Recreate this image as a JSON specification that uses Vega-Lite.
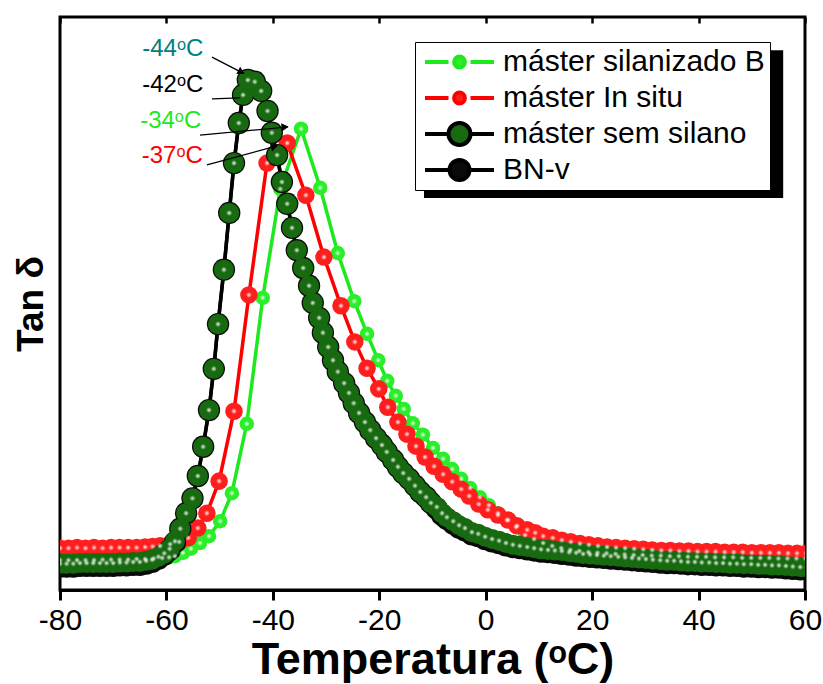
{
"$schema":"https://vega.github.io/schema/vega-lite/v6.json",
"width":745,"height":573,
"autosize":{"type":"none"},
"padding":{"left":60,"top":17,"right":18,"bottom":94},
"background":"white",
"config":{"font":"Liberation Sans","view":{"stroke":"black","strokeWidth":3}},
"resolve":{"axis":{"x":"independent"}},
"datasets":{
"d":[
{"s":"máster silanizado B","t":-80,"v":0.052},{"s":"máster silanizado B","t":-78.4,"v":0.052},{"s":"máster silanizado B","t":-76.8,"v":0.052},{"s":"máster silanizado B","t":-75.2,"v":0.052},{"s":"máster silanizado B","t":-73.6,"v":0.052},{"s":"máster silanizado B","t":-72.0,"v":0.053},{"s":"máster silanizado B","t":-70.4,"v":0.053},{"s":"máster silanizado B","t":-68.8,"v":0.053},{"s":"máster silanizado B","t":-67.2,"v":0.053},{"s":"máster silanizado B","t":-65.6,"v":0.054},{"s":"máster silanizado B","t":-64.0,"v":0.054},{"s":"máster silanizado B","t":-62.4,"v":0.055},{"s":"máster silanizado B","t":-60.8,"v":0.056},{"s":"máster silanizado B","t":-59.5,"v":0.057},{"s":"máster silanizado B","t":-58.4,"v":0.059},{"s":"máster silanizado B","t":-56.9,"v":0.065},{"s":"máster silanizado B","t":-55.4,"v":0.072},{"s":"máster silanizado B","t":-53.7,"v":0.082},{"s":"máster silanizado B","t":-52.0,"v":0.094},{"s":"máster silanizado B","t":-49.9,"v":0.120},{"s":"máster silanizado B","t":-47.7,"v":0.169},{"s":"máster silanizado B","t":-44.9,"v":0.290},{"s":"máster silanizado B","t":-41.9,"v":0.510},{"s":"máster silanizado B","t":-38.6,"v":0.700},{"s":"máster silanizado B","t":-34.7,"v":0.805},{"s":"máster silanizado B","t":-31.1,"v":0.702},{"s":"máster silanizado B","t":-27.8,"v":0.588},{"s":"máster silanizado B","t":-24.7,"v":0.504},{"s":"máster silanizado B","t":-22.3,"v":0.447},{"s":"máster silanizado B","t":-20.2,"v":0.401},{"s":"máster silanizado B","t":-18.5,"v":0.365},{"s":"máster silanizado B","t":-16.9,"v":0.339},{"s":"máster silanizado B","t":-15.4,"v":0.316},{"s":"máster silanizado B","t":-13.7,"v":0.291},{"s":"máster silanizado B","t":-11.8,"v":0.271},{"s":"máster silanizado B","t":-9.9,"v":0.248},{"s":"máster silanizado B","t":-8.0,"v":0.229},{"s":"máster silanizado B","t":-6.3,"v":0.211},{"s":"máster silanizado B","t":-4.6,"v":0.194},{"s":"máster silanizado B","t":-2.9,"v":0.178},{"s":"máster silanizado B","t":-1.1,"v":0.162},{"s":"máster silanizado B","t":0.6,"v":0.148},{"s":"máster silanizado B","t":2.3,"v":0.134},{"s":"máster silanizado B","t":4.0,"v":0.122},{"s":"máster silanizado B","t":5.7,"v":0.110},{"s":"máster silanizado B","t":7.4,"v":0.096},{"s":"máster silanizado B","t":9.1,"v":0.089},{"s":"máster silanizado B","t":10.8,"v":0.082},{"s":"máster silanizado B","t":12.5,"v":0.077},{"s":"máster silanizado B","t":14.2,"v":0.073},{"s":"máster silanizado B","t":15.9,"v":0.070},{"s":"máster silanizado B","t":17.6,"v":0.068},{"s":"máster silanizado B","t":19.3,"v":0.066},{"s":"máster silanizado B","t":21.0,"v":0.065},{"s":"máster silanizado B","t":22.7,"v":0.064},{"s":"máster silanizado B","t":24.4,"v":0.063},{"s":"máster silanizado B","t":26.1,"v":0.062},{"s":"máster silanizado B","t":27.8,"v":0.061},{"s":"máster silanizado B","t":29.5,"v":0.061},{"s":"máster silanizado B","t":31.2,"v":0.060},{"s":"máster silanizado B","t":32.9,"v":0.060},{"s":"máster silanizado B","t":34.6,"v":0.059},{"s":"máster silanizado B","t":36.3,"v":0.059},{"s":"máster silanizado B","t":38.0,"v":0.058},{"s":"máster silanizado B","t":39.7,"v":0.058},{"s":"máster silanizado B","t":41.4,"v":0.058},{"s":"máster silanizado B","t":43.1,"v":0.057},{"s":"máster silanizado B","t":44.8,"v":0.057},{"s":"máster silanizado B","t":46.5,"v":0.057},{"s":"máster silanizado B","t":48.2,"v":0.056},{"s":"máster silanizado B","t":49.9,"v":0.056},{"s":"máster silanizado B","t":51.6,"v":0.056},{"s":"máster silanizado B","t":53.3,"v":0.056},{"s":"máster silanizado B","t":55.0,"v":0.055},{"s":"máster silanizado B","t":56.7,"v":0.055},{"s":"máster silanizado B","t":58.4,"v":0.055},{"s":"máster silanizado B","t":60.1,"v":0.055},
{"s":"máster In situ","t":-80,"v":0.073},{"s":"máster In situ","t":-78.4,"v":0.073},{"s":"máster In situ","t":-76.8,"v":0.074},{"s":"máster In situ","t":-75.2,"v":0.073},{"s":"máster In situ","t":-73.6,"v":0.074},{"s":"máster In situ","t":-72.0,"v":0.073},{"s":"máster In situ","t":-70.4,"v":0.074},{"s":"máster In situ","t":-68.8,"v":0.074},{"s":"máster In situ","t":-67.2,"v":0.074},{"s":"máster In situ","t":-65.6,"v":0.074},{"s":"máster In situ","t":-64.0,"v":0.075},{"s":"máster In situ","t":-62.6,"v":0.076},{"s":"máster In situ","t":-61.2,"v":0.077},{"s":"máster In situ","t":-59.3,"v":0.080},{"s":"máster In situ","t":-57.6,"v":0.084},{"s":"máster In situ","t":-55.9,"v":0.091},{"s":"máster In situ","t":-54.1,"v":0.108},{"s":"máster In situ","t":-52.4,"v":0.134},{"s":"máster In situ","t":-50.1,"v":0.190},{"s":"máster In situ","t":-47.3,"v":0.312},{"s":"máster In situ","t":-44.5,"v":0.515},{"s":"máster In situ","t":-41.1,"v":0.745},{"s":"máster In situ","t":-37.3,"v":0.780},{"s":"máster In situ","t":-33.8,"v":0.689},{"s":"máster In situ","t":-30.4,"v":0.581},{"s":"máster In situ","t":-27.2,"v":0.496},{"s":"máster In situ","t":-24.6,"v":0.433},{"s":"máster In situ","t":-22.3,"v":0.387},{"s":"máster In situ","t":-20.1,"v":0.351},{"s":"máster In situ","t":-18.4,"v":0.319},{"s":"máster In situ","t":-16.5,"v":0.293},{"s":"máster In situ","t":-14.8,"v":0.272},{"s":"máster In situ","t":-13.1,"v":0.251},{"s":"máster In situ","t":-11.4,"v":0.232},{"s":"máster In situ","t":-9.7,"v":0.216},{"s":"máster In situ","t":-8.0,"v":0.202},{"s":"máster In situ","t":-6.3,"v":0.189},{"s":"máster In situ","t":-4.6,"v":0.176},{"s":"máster In situ","t":-3.1,"v":0.164},{"s":"máster In situ","t":-1.3,"v":0.150},{"s":"máster In situ","t":0.4,"v":0.140},{"s":"máster In situ","t":2.3,"v":0.131},{"s":"máster In situ","t":4.2,"v":0.122},{"s":"máster In situ","t":5.9,"v":0.112},{"s":"máster In situ","t":7.8,"v":0.105},{"s":"máster In situ","t":9.3,"v":0.100},{"s":"máster In situ","t":10.8,"v":0.094},{"s":"máster In situ","t":12.6,"v":0.091},{"s":"máster In situ","t":14.3,"v":0.087},{"s":"máster In situ","t":16.0,"v":0.084},{"s":"máster In situ","t":17.7,"v":0.081},{"s":"máster In situ","t":19.4,"v":0.079},{"s":"máster In situ","t":21.1,"v":0.077},{"s":"máster In situ","t":22.8,"v":0.075},{"s":"máster In situ","t":24.5,"v":0.074},{"s":"máster In situ","t":26.2,"v":0.073},{"s":"máster In situ","t":27.9,"v":0.072},{"s":"máster In situ","t":29.6,"v":0.071},{"s":"máster In situ","t":31.3,"v":0.070},{"s":"máster In situ","t":33.0,"v":0.069},{"s":"máster In situ","t":34.7,"v":0.069},{"s":"máster In situ","t":36.4,"v":0.068},{"s":"máster In situ","t":38.1,"v":0.068},{"s":"máster In situ","t":39.8,"v":0.067},{"s":"máster In situ","t":41.5,"v":0.067},{"s":"máster In situ","t":43.2,"v":0.067},{"s":"máster In situ","t":44.9,"v":0.066},{"s":"máster In situ","t":46.6,"v":0.066},{"s":"máster In situ","t":48.3,"v":0.066},{"s":"máster In situ","t":50.0,"v":0.065},{"s":"máster In situ","t":51.7,"v":0.065},{"s":"máster In situ","t":53.4,"v":0.065},{"s":"máster In situ","t":55.1,"v":0.065},{"s":"máster In situ","t":56.8,"v":0.064},{"s":"máster In situ","t":58.5,"v":0.064},{"s":"máster In situ","t":60.2,"v":0.064},
{"s":"BN-v","t":-80,"v":0.041},{"s":"BN-v","t":-78.75,"v":0.041},{"s":"BN-v","t":-77.5,"v":0.041},{"s":"BN-v","t":-76.25,"v":0.042},{"s":"BN-v","t":-75,"v":0.042},{"s":"BN-v","t":-73.75,"v":0.042},{"s":"BN-v","t":-72.5,"v":0.042},{"s":"BN-v","t":-71.25,"v":0.042},{"s":"BN-v","t":-70,"v":0.042},{"s":"BN-v","t":-68.75,"v":0.043},{"s":"BN-v","t":-67.5,"v":0.043},{"s":"BN-v","t":-66.25,"v":0.044},{"s":"BN-v","t":-65,"v":0.044},{"s":"BN-v","t":-63.8,"v":0.046},{"s":"BN-v","t":-62.7,"v":0.049},{"s":"BN-v","t":-61.5,"v":0.055},{"s":"BN-v","t":-60.4,"v":0.062},{"s":"BN-v","t":-59.4,"v":0.070},{"s":"BN-v","t":-58.4,"v":0.083},{"s":"BN-v","t":-57.4,"v":0.107},{"s":"BN-v","t":-56.3,"v":0.134},{"s":"BN-v","t":-55.1,"v":0.160},{"s":"BN-v","t":-54.1,"v":0.199},{"s":"BN-v","t":-53.1,"v":0.250},{"s":"BN-v","t":-52.0,"v":0.314},{"s":"BN-v","t":-51.1,"v":0.386},{"s":"BN-v","t":-50.3,"v":0.464},{"s":"BN-v","t":-49.2,"v":0.559},{"s":"BN-v","t":-48.2,"v":0.658},{"s":"BN-v","t":-47.3,"v":0.745},{"s":"BN-v","t":-46.4,"v":0.815},{"s":"BN-v","t":-45.6,"v":0.864},{"s":"BN-v","t":-44.7,"v":0.890},{"s":"BN-v","t":-43.4,"v":0.887},{"s":"BN-v","t":-42.2,"v":0.871},{"s":"BN-v","t":-41.0,"v":0.836},{"s":"BN-v","t":-40.2,"v":0.798},{"s":"BN-v","t":-39.2,"v":0.759},{"s":"BN-v","t":-38.3,"v":0.712},{"s":"BN-v","t":-37.3,"v":0.674},{"s":"BN-v","t":-36.4,"v":0.632},{"s":"BN-v","t":-35.5,"v":0.593},{"s":"BN-v","t":-34.3,"v":0.562},{"s":"BN-v","t":-33.2,"v":0.531},{"s":"BN-v","t":-32.5,"v":0.501},{"s":"BN-v","t":-31.3,"v":0.475},{"s":"BN-v","t":-30.6,"v":0.449},{"s":"BN-v","t":-29.6,"v":0.424},{"s":"BN-v","t":-28.7,"v":0.401},{"s":"BN-v","t":-27.8,"v":0.381},{"s":"BN-v","t":-26.6,"v":0.361},{"s":"BN-v","t":-25.7,"v":0.344},{"s":"BN-v","t":-24.8,"v":0.326},{"s":"BN-v","t":-23.8,"v":0.309},{"s":"BN-v","t":-22.7,"v":0.293},{"s":"BN-v","t":-21.7,"v":0.279},{"s":"BN-v","t":-20.6,"v":0.265},{"s":"BN-v","t":-19.5,"v":0.253},{"s":"BN-v","t":-18.6,"v":0.241},{"s":"BN-v","t":-17.4,"v":0.227},{"s":"BN-v","t":-16.5,"v":0.215},{"s":"BN-v","t":-15.5,"v":0.204},{"s":"BN-v","t":-14.4,"v":0.194},{"s":"BN-v","t":-13.3,"v":0.182},{"s":"BN-v","t":-12.3,"v":0.171},{"s":"BN-v","t":-11.2,"v":0.162},{"s":"BN-v","t":-10.3,"v":0.152},{"s":"BN-v","t":-9.2,"v":0.142},{"s":"BN-v","t":-8.2,"v":0.131},{"s":"BN-v","t":-7.3,"v":0.124},{"s":"BN-v","t":-6.1,"v":0.116},{"s":"BN-v","t":-5.0,"v":0.109},{"s":"BN-v","t":-3.9,"v":0.104},{"s":"BN-v","t":-2.6,"v":0.097},{"s":"BN-v","t":-1.4,"v":0.094},{"s":"BN-v","t":-0.1,"v":0.089},{"s":"BN-v","t":1.2,"v":0.085},{"s":"BN-v","t":2.5,"v":0.082},{"s":"BN-v","t":3.8,"v":0.078},{"s":"BN-v","t":5.1,"v":0.075},{"s":"BN-v","t":6.4,"v":0.073},{"s":"BN-v","t":7.8,"v":0.071},{"s":"BN-v","t":9.1,"v":0.069},{"s":"BN-v","t":10.4,"v":0.067},{"s":"BN-v","t":11.7,"v":0.066},{"s":"BN-v","t":13.0,"v":0.065},{"s":"BN-v","t":14.3,"v":0.063},{"s":"BN-v","t":15.7,"v":0.062},{"s":"BN-v","t":17.0,"v":0.060},{"s":"BN-v","t":18.3,"v":0.059},{"s":"BN-v","t":19.6,"v":0.058},{"s":"BN-v","t":20.9,"v":0.057},{"s":"BN-v","t":22.2,"v":0.056},{"s":"BN-v","t":23.5,"v":0.055},{"s":"BN-v","t":24.9,"v":0.054},{"s":"BN-v","t":26.2,"v":0.053},{"s":"BN-v","t":27.5,"v":0.052},{"s":"BN-v","t":28.8,"v":0.051},{"s":"BN-v","t":30.1,"v":0.050},{"s":"BN-v","t":31.4,"v":0.049},{"s":"BN-v","t":32.8,"v":0.048},{"s":"BN-v","t":34.1,"v":0.047},{"s":"BN-v","t":35.4,"v":0.047},{"s":"BN-v","t":36.7,"v":0.046},{"s":"BN-v","t":38.0,"v":0.045},{"s":"BN-v","t":39.3,"v":0.045},{"s":"BN-v","t":40.6,"v":0.044},{"s":"BN-v","t":42.0,"v":0.044},{"s":"BN-v","t":43.3,"v":0.043},{"s":"BN-v","t":44.6,"v":0.043},{"s":"BN-v","t":45.9,"v":0.042},{"s":"BN-v","t":47.2,"v":0.042},{"s":"BN-v","t":48.5,"v":0.041},{"s":"BN-v","t":49.9,"v":0.041},{"s":"BN-v","t":51.2,"v":0.040},{"s":"BN-v","t":52.5,"v":0.040},{"s":"BN-v","t":53.8,"v":0.039},{"s":"BN-v","t":55.1,"v":0.039},{"s":"BN-v","t":56.4,"v":0.038},{"s":"BN-v","t":57.7,"v":0.037},{"s":"BN-v","t":59.1,"v":0.036},{"s":"BN-v","t":60.4,"v":0.036},
{"s":"máster sem silano","t":-80,"v":0.046},{"s":"máster sem silano","t":-78.75,"v":0.046},{"s":"máster sem silano","t":-77.5,"v":0.046},{"s":"máster sem silano","t":-76.25,"v":0.047},{"s":"máster sem silano","t":-75,"v":0.047},{"s":"máster sem silano","t":-73.75,"v":0.047},{"s":"máster sem silano","t":-72.5,"v":0.047},{"s":"máster sem silano","t":-71.25,"v":0.047},{"s":"máster sem silano","t":-70,"v":0.047},{"s":"máster sem silano","t":-68.75,"v":0.048},{"s":"máster sem silano","t":-67.5,"v":0.048},{"s":"máster sem silano","t":-66.25,"v":0.049},{"s":"máster sem silano","t":-65,"v":0.049},{"s":"máster sem silano","t":-63.8,"v":0.051},{"s":"máster sem silano","t":-62.7,"v":0.053},{"s":"máster sem silano","t":-61.5,"v":0.058},{"s":"máster sem silano","t":-60.4,"v":0.064},{"s":"máster sem silano","t":-59.4,"v":0.072},{"s":"máster sem silano","t":-58.4,"v":0.085},{"s":"máster sem silano","t":-57.4,"v":0.107},{"s":"máster sem silano","t":-56.3,"v":0.134},{"s":"máster sem silano","t":-55.1,"v":0.160},{"s":"máster sem silano","t":-54.1,"v":0.199},{"s":"máster sem silano","t":-53.1,"v":0.250},{"s":"máster sem silano","t":-52.0,"v":0.314},{"s":"máster sem silano","t":-51.1,"v":0.386},{"s":"máster sem silano","t":-50.3,"v":0.464},{"s":"máster sem silano","t":-49.2,"v":0.559},{"s":"máster sem silano","t":-48.2,"v":0.658},{"s":"máster sem silano","t":-47.3,"v":0.745},{"s":"máster sem silano","t":-46.4,"v":0.815},{"s":"máster sem silano","t":-45.6,"v":0.864},{"s":"máster sem silano","t":-44.7,"v":0.890},{"s":"máster sem silano","t":-43.4,"v":0.887},{"s":"máster sem silano","t":-42.2,"v":0.871},{"s":"máster sem silano","t":-41.0,"v":0.836},{"s":"máster sem silano","t":-40.2,"v":0.798},{"s":"máster sem silano","t":-39.2,"v":0.759},{"s":"máster sem silano","t":-38.3,"v":0.712},{"s":"máster sem silano","t":-37.3,"v":0.674},{"s":"máster sem silano","t":-36.4,"v":0.632},{"s":"máster sem silano","t":-35.5,"v":0.593},{"s":"máster sem silano","t":-34.3,"v":0.562},{"s":"máster sem silano","t":-33.2,"v":0.531},{"s":"máster sem silano","t":-32.5,"v":0.501},{"s":"máster sem silano","t":-31.3,"v":0.475},{"s":"máster sem silano","t":-30.6,"v":0.449},{"s":"máster sem silano","t":-29.6,"v":0.424},{"s":"máster sem silano","t":-28.7,"v":0.401},{"s":"máster sem silano","t":-27.8,"v":0.381},{"s":"máster sem silano","t":-26.6,"v":0.361},{"s":"máster sem silano","t":-25.7,"v":0.344},{"s":"máster sem silano","t":-24.8,"v":0.326},{"s":"máster sem silano","t":-23.8,"v":0.309},{"s":"máster sem silano","t":-22.7,"v":0.293},{"s":"máster sem silano","t":-21.7,"v":0.279},{"s":"máster sem silano","t":-20.6,"v":0.265},{"s":"máster sem silano","t":-19.5,"v":0.253},{"s":"máster sem silano","t":-18.6,"v":0.241},{"s":"máster sem silano","t":-17.4,"v":0.227},{"s":"máster sem silano","t":-16.5,"v":0.215},{"s":"máster sem silano","t":-15.5,"v":0.204},{"s":"máster sem silano","t":-14.4,"v":0.194},{"s":"máster sem silano","t":-13.3,"v":0.182},{"s":"máster sem silano","t":-12.3,"v":0.171},{"s":"máster sem silano","t":-11.2,"v":0.162},{"s":"máster sem silano","t":-10.3,"v":0.152},{"s":"máster sem silano","t":-9.2,"v":0.145},{"s":"máster sem silano","t":-8.2,"v":0.134},{"s":"máster sem silano","t":-7.3,"v":0.127},{"s":"máster sem silano","t":-6.1,"v":0.120},{"s":"máster sem silano","t":-5.0,"v":0.113},{"s":"máster sem silano","t":-3.9,"v":0.108},{"s":"máster sem silano","t":-2.6,"v":0.101},{"s":"máster sem silano","t":-1.4,"v":0.098},{"s":"máster sem silano","t":-0.1,"v":0.093},{"s":"máster sem silano","t":1.2,"v":0.089},{"s":"máster sem silano","t":2.5,"v":0.086},{"s":"máster sem silano","t":3.8,"v":0.082},{"s":"máster sem silano","t":5.1,"v":0.079},{"s":"máster sem silano","t":6.4,"v":0.077},{"s":"máster sem silano","t":7.8,"v":0.075},{"s":"máster sem silano","t":9.1,"v":0.073},{"s":"máster sem silano","t":10.4,"v":0.071},{"s":"máster sem silano","t":11.7,"v":0.070},{"s":"máster sem silano","t":13.0,"v":0.069},{"s":"máster sem silano","t":14.3,"v":0.068},{"s":"máster sem silano","t":15.7,"v":0.066},{"s":"máster sem silano","t":17.0,"v":0.065},{"s":"máster sem silano","t":18.3,"v":0.063},{"s":"máster sem silano","t":19.6,"v":0.062},{"s":"máster sem silano","t":20.9,"v":0.061},{"s":"máster sem silano","t":22.2,"v":0.060},{"s":"máster sem silano","t":23.5,"v":0.059},{"s":"máster sem silano","t":24.9,"v":0.058},{"s":"máster sem silano","t":26.2,"v":0.057},{"s":"máster sem silano","t":27.5,"v":0.056},{"s":"máster sem silano","t":28.8,"v":0.055},{"s":"máster sem silano","t":30.1,"v":0.054},{"s":"máster sem silano","t":31.4,"v":0.053},{"s":"máster sem silano","t":32.8,"v":0.052},{"s":"máster sem silano","t":34.1,"v":0.051},{"s":"máster sem silano","t":35.4,"v":0.051},{"s":"máster sem silano","t":36.7,"v":0.050},{"s":"máster sem silano","t":38.0,"v":0.049},{"s":"máster sem silano","t":39.3,"v":0.049},{"s":"máster sem silano","t":40.6,"v":0.048},{"s":"máster sem silano","t":42.0,"v":0.048},{"s":"máster sem silano","t":43.3,"v":0.047},{"s":"máster sem silano","t":44.6,"v":0.047},{"s":"máster sem silano","t":45.9,"v":0.046},{"s":"máster sem silano","t":47.2,"v":0.046},{"s":"máster sem silano","t":48.5,"v":0.045},{"s":"máster sem silano","t":49.9,"v":0.045},{"s":"máster sem silano","t":51.2,"v":0.044},{"s":"máster sem silano","t":52.5,"v":0.044},{"s":"máster sem silano","t":53.8,"v":0.043},{"s":"máster sem silano","t":55.1,"v":0.043},{"s":"máster sem silano","t":56.4,"v":0.042},{"s":"máster sem silano","t":57.7,"v":0.041},{"s":"máster sem silano","t":59.1,"v":0.040},{"s":"máster sem silano","t":60.4,"v":0.040}
],
"labels":[
{"lab":"-44ᵒC","t":-58.8,"v":0.945},
{"lab":"-42ᵒC","t":-58.8,"v":0.881},
{"lab":"-34ᵒC","t":-59.2,"v":0.819},
{"lab":"-37ᵒC","t":-58.9,"v":0.757}
],
"leaders":[
{"t":-51.44,"v":0.930,"t2":-45.61,"v2":0.902},
{"t":-51.44,"v":0.857,"t2":-46.17,"v2":0.859},
{"t":-53.69,"v":0.794,"t2":-37.15,"v2":0.808},
{"t":-52.38,"v":0.742,"t2":-39.22,"v2":0.775}
],
"shadow":[{"t":-11.6,"t2":55.9,"v":0.684,"v2":0.942}]
},
"layer":[
{"data":{"name":"shadow"},"mark":{"type":"rect","fill":"black"},
 "encoding":{"x":{"field":"t","type":"quantitative","axis":null},"x2":{"field":"t2"},"y":{"field":"v","type":"quantitative"},"y2":{"field":"v2"}}},
{"data":{"name":"d"},"mark":{"type":"line","strokeWidth":3.5,"clip":true},
 "encoding":{
  "x":{"field":"t","type":"quantitative","scale":{"domain":[-80,60],"nice":false,"zero":false},
    "axis":{"orient":"bottom","values":[-80,-60,-40,-20,0,20,40,60],"labelExpr":"datum.value + ''","tickSize":10,"tickWidth":3,"tickColor":"black","domainWidth":3,"domainColor":"black","labelFontSize":30,"labelFont":"Liberation Sans","labelColor":"black","labelPadding":5,"labelFlush":false,"labelOverlap":false,"grid":false,"title":"Temperatura (ᵒC)","titleFontSize":45,"titleFont":"Liberation Sans","titleFontWeight":"bold","titleColor":"black","titleY":83,"titleBaseline":"alphabetic"}},
  "y":{"field":"v","type":"quantitative","scale":{"domain":[0,1],"nice":false,"zero":false},
    "axis":{"orient":"left","ticks":false,"labels":false,"domain":false,"grid":false,"title":"Tan δ","titleFontSize":37,"titleFont":"Liberation Sans","titleFontWeight":"bold","titleColor":"black","titlePadding":10}},
  "stroke":{"field":"s","type":"nominal","scale":{"domain":["máster silanizado B","máster In situ","máster sem silano","BN-v"],"range":["#1ee81e","#ff0000","#000000","#000000"]}}
 }},
{"data":{"name":"d"},"transform":[{"filter":"false"}],"mark":{"type":"point","filled":true,"opacity":1},
 "encoding":{"x":{"field":"t","type":"quantitative","axis":null},"y":{"field":"v","type":"quantitative"},
  "shape":{"field":"s","type":"nominal","scale":{"domain":["máster silanizado B","máster In situ","máster sem silano","BN-v"],
   "range":["M-1.0,0H1.35M3.55,0H5.9M1.91,0A0.54,0.54,0,1,1,2.99,0A0.54,0.54,0,1,1,1.91,0Z","M-1.0,0H1.35M3.55,0H5.9M1.91,0A0.54,0.54,0,1,1,2.99,0A0.54,0.54,0,1,1,1.91,0Z","M-1.0,0H1.35M3.55,0H5.9M1.35,0A1.1,1.1,0,1,1,3.55,0A1.1,1.1,0,1,1,1.35,0Z","M-1.0,0H1.45M3.45,0H5.9M1.45,0A1,1,0,1,1,3.45,0A1,1,0,1,1,1.45,0Z"]}}}},
{"data":{"name":"d"},"mark":{"type":"point","filled":true,"shape":"circle","opacity":1,"strokeWidth":0,"clip":true},
 "encoding":{
  "x":{"field":"t","type":"quantitative","axis":null},
  "y":{"field":"v","type":"quantitative"},
  "size":{"field":"s","type":"nominal","legend":null,"scale":{"domain":["BN-v","máster sem silano","máster In situ","máster silanizado B"],"range":[500,210,170,170]}},
  "fill":{"field":"s","type":"nominal","scale":{"domain":["máster silanizado B","máster In situ","máster sem silano","BN-v"],"range":["#2aee2a","#ff1e1e","#176a10","#0a0a0a"]},
   "legend":{"orient":"none","legendX":355,"legendY":25,"title":null,"fillColor":"white","strokeColor":"black","padding":5,"symbolSize":400,"symbolStrokeWidth":4,"symbolOpacity":1,"clipHeight":30,"gridAlign":"all","labelFontSize":30,"labelFont":"Liberation Sans","labelColor":"black","labelOffset":53,"rowPadding":6,"labelLimit":400}}
 }},
{"data":{"name":"d"},"transform":[{"filter":"datum.s != 'BN-v'"}],
 "mark":{"type":"point","filled":true,"shape":"circle","size":36,"dx":-2.5,"dy":-2.5,"strokeWidth":0,"clip":true,
   "fill":{"gradient":"radial","x1":0.5,"y1":0.5,"x2":0.5,"y2":0.5,"r1":0,"r2":0.5,"stops":[{"offset":0,"color":"rgba(255,255,255,0.95)"},{"offset":1,"color":"rgba(255,255,255,0)"}]},"opacity":1},
 "encoding":{"x":{"field":"t","type":"quantitative",
   "axis":{"orient":"top","values":[-80,-60,-40,-20,0,20,40,60],"labels":false,"domain":false,"grid":false,"title":null,"tickSize":-6,"tickWidth":2.5,"tickColor":"black"}},
  "y":{"field":"v","type":"quantitative"}}},
{"data":{"name":"leaders"},"mark":{"type":"rule","stroke":"black","strokeWidth":1.2},
 "encoding":{"x":{"field":"t","type":"quantitative","axis":null},"y":{"field":"v","type":"quantitative"},"x2":{"field":"t2"},"y2":{"field":"v2"}}},
{"data":{"values":[{"t":-45.9,"v":0.904}]},"mark":{"type":"point","shape":"triangle-right","filled":true,"fill":"black","size":70,"angle":27,"strokeWidth":0,"opacity":1},
 "encoding":{"x":{"field":"t","type":"quantitative","axis":null},"y":{"field":"v","type":"quantitative"}}},
{"data":{"values":[{"t":-37.7,"v":0.808}]},"mark":{"type":"point","shape":"triangle-right","filled":true,"fill":"black","size":70,"angle":355,"strokeWidth":0,"opacity":1},
 "encoding":{"x":{"field":"t","type":"quantitative","axis":null},"y":{"field":"v","type":"quantitative"}}},
{"data":{"values":[{"t":-39.7,"v":0.774}]},"mark":{"type":"point","shape":"triangle-right","filled":true,"fill":"black","size":70,"angle":345,"strokeWidth":0,"opacity":1},
 "encoding":{"x":{"field":"t","type":"quantitative","axis":null},"y":{"field":"v","type":"quantitative"}}},
{"data":{"name":"labels"},"mark":{"type":"text","fontSize":24,"font":"Liberation Sans","align":"center","baseline":"middle"},
 "encoding":{"x":{"field":"t","type":"quantitative","axis":null},"y":{"field":"v","type":"quantitative"},"text":{"field":"lab"},
  "color":{"field":"lab","type":"nominal","legend":null,"scale":{"domain":["-44ᵒC","-42ᵒC","-34ᵒC","-37ᵒC"],"range":["#008080","#000000","#1ee81e","#ff0000"]}}}}
]
}
